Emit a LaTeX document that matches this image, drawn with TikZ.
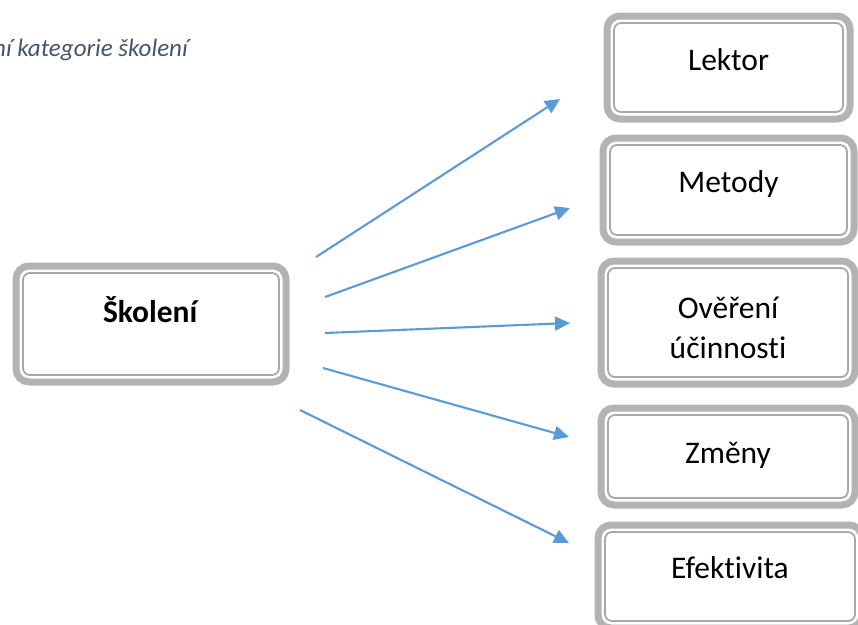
\documentclass[tikz,border=0pt]{standalone}
\usepackage{fontspec}
\setmainfont{Carlito}[Ligatures=NoCommon]
\usetikzlibrary{arrows.meta}
\definecolor{boxgray}{HTML}{B3B3B3}
\definecolor{innergray}{HTML}{A8A8A8}
\definecolor{arrowblue}{HTML}{5B9BD5}
\definecolor{titleslate}{HTML}{44546A}
\begin{document}
\begin{tikzpicture}[x=1pt,y=-1pt,
  box/.style={draw=boxgray, line width=7pt, rounded corners=13pt, fill=white,
    inner sep=0pt, outer sep=0pt, font=\fontsize{31.5}{40}\selectfont, anchor=north west},
  innerline/.style={draw=innergray, line width=1.8pt, rounded corners=7pt},
  conn/.style={draw=arrowblue, line width=2.1pt, -{Triangle[length=15pt,width=14pt]}},
]
\clip (0,0) rectangle (858,624);

% title
\node[font=\fontsize{25}{29}\selectfont\itshape, text=titleslate, anchor=base east, inner sep=0pt] (title) at (188,56) {ní kategorie školení};

% boxes
\node[box, minimum width=270pt, text height=56pt, text depth=60pt] (skol) at (16,266) {\textbf{Školení}};
\node[box, minimum width=243pt, text height=54pt, text depth=49pt] (lektor) at (607,16) {Lektor};
\node[box, minimum width=251pt, text height=54pt, text depth=50pt] (metody) at (603,138) {Metody};
\node[box, minimum width=254pt, text height=97pt, text depth=26pt] (over) at (601,261)
  {\begin{tabular}[b]{@{}c@{}}Ověření\\účinnosti\end{tabular}};
\node[box, minimum width=254pt, text height=55pt, text depth=42pt] (zmeny) at (601,408) {Změny};
\node[box, minimum width=264pt, text height=53pt, text depth=50pt] (efekt) at (598,525) {Efektivita};

\foreach \n in {skol,lektor,metody,over,zmeny,efekt}{
  \draw[innerline] ([shift={(7pt,-7pt)}]\n.north west) rectangle ([shift={(-7pt,7pt)}]\n.south east);
}

% arrow end points
\coordinate (s1) at (316,257); \coordinate (e1) at (560,99);
\coordinate (s2) at (325,297); \coordinate (e2) at (570,208);
\coordinate (s3) at (325,333); \coordinate (e3) at (570,323);
\coordinate (s4) at (323,368); \coordinate (e4) at (569,437);
\coordinate (s5) at (300,410); \coordinate (e5) at (569,543);

\draw[conn] (s1) -- (e1);
\draw[conn] (s2) -- (e2);
\draw[conn] (s3) -- (e3);
\draw[conn] (s4) -- (e4);
\draw[conn] (s5) -- (e5);
\end{tikzpicture}
\end{document}
